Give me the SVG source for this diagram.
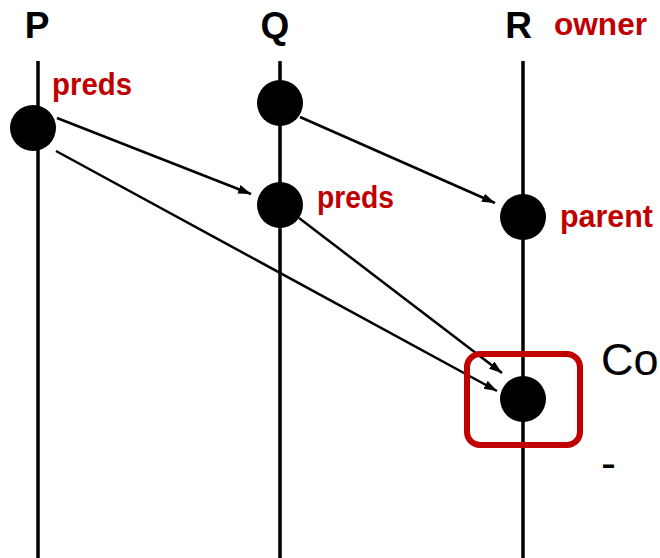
<svg xmlns="http://www.w3.org/2000/svg" width="660" height="558" viewBox="0 0 660 558">
  <style>
    .proc { font-family: "Liberation Sans", Arial, sans-serif; font-weight: bold; font-size: 37px; fill: #000; }
    .tag { font-family: "Liberation Sans", Arial, sans-serif; font-weight: bold; font-size: 32px; fill: #C00000; }
    .note { font-family: "Liberation Sans", Arial, sans-serif; font-size: 45px; fill: #000; }
    .timeline { stroke: #000; stroke-width: 3.5; fill: none; }
    .event { fill: #000; }
    .msg { stroke: #000; stroke-width: 2.5; fill: none; marker-end: url(#head); }
  </style>
  <defs>
    <marker id="head" markerUnits="userSpaceOnUse" markerWidth="14" markerHeight="10" refX="13" refY="4.5" orient="auto">
      <path d="M0,0 L13,4.5 L0,9 Z" fill="#000"/>
    </marker>
  </defs>
  <rect width="660" height="558" fill="#fff"/>

  <!-- process names and timelines -->
  <g id="proc-P"><text class="proc" x="37" y="38" text-anchor="middle">P</text>
    <line class="timeline" x1="38" y1="61" x2="38" y2="558"/></g>
  <g id="proc-Q"><text class="proc" x="275" y="38" text-anchor="middle">Q</text>
    <line class="timeline" x1="280" y1="61" x2="280" y2="558"/></g>
  <g id="proc-R"><text class="proc" x="518.5" y="38" text-anchor="middle">R</text>
    <line class="timeline" x1="523" y1="61" x2="523" y2="558"/></g>

  <!-- message arrows -->
  <g id="connectors">
    <line class="msg" x1="57" y1="118" x2="251" y2="194"/>
    <line class="msg" x1="56" y1="151" x2="497" y2="391"/>
    <line class="msg" x1="300" y1="117" x2="495" y2="203"/>
    <line class="msg" x1="299" y1="218" x2="502" y2="373"/>
  </g>

  <!-- events -->
  <g id="evt-P1"><circle class="event" cx="33" cy="128" r="23"/>
    <text class="tag" x="52" y="95" textLength="80" lengthAdjust="spacingAndGlyphs">preds</text></g>
  <g id="evt-Q1"><circle class="event" cx="280" cy="103" r="23"/></g>
  <g id="evt-Q2"><circle class="event" cx="280" cy="205" r="23"/>
    <text class="tag" x="317" y="208" textLength="77" lengthAdjust="spacingAndGlyphs">preds</text></g>
  <g id="evt-R1"><circle class="event" cx="523" cy="217" r="23"/>
    <text class="tag" x="560" y="227" textLength="93" lengthAdjust="spacingAndGlyphs">parent</text></g>
  <g id="evt-R2"><rect x="467" y="354" width="113" height="91" rx="13" fill="none" stroke="#C00000" stroke-width="6"/>
    <circle class="event" cx="523" cy="399" r="23"/></g>

  <g id="owner-label"><text class="tag" x="554" y="35" textLength="93" lengthAdjust="spacingAndGlyphs">owner</text></g>

  <!-- side notes -->
  <text class="note" x="601" y="375">Co</text>
  <text class="note" x="601" y="478">-</text>
</svg>
